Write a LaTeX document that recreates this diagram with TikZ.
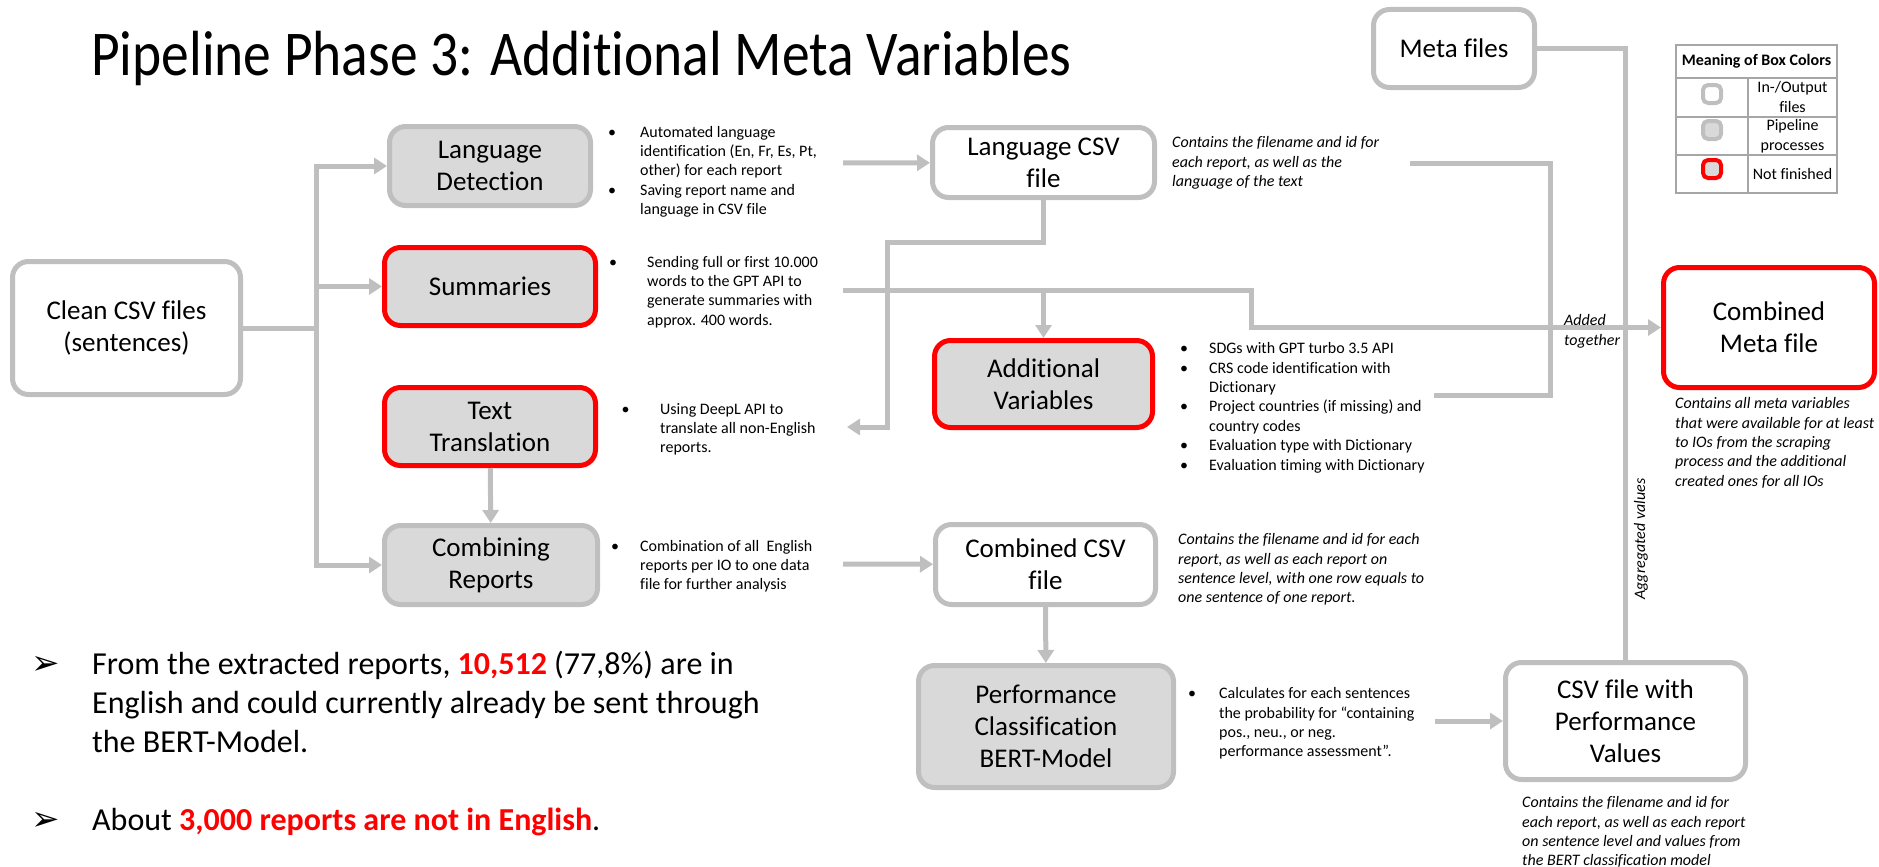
\documentclass[tikz,border=0pt]{standalone}
\usepackage{fontspec}
\setmainfont{Carlito}[Ligatures=NoCommon]
\newfontfamily\symfont{DejaVu Sans}
\usetikzlibrary{arrows.meta}

\definecolor{linegray}{HTML}{BFBFBF}
\definecolor{procfill}{HTML}{D9D9D9}
\definecolor{openred}{HTML}{FF0000}
\definecolor{tablegray}{HTML}{A6A6A6}

\tikzset{
  box/.style={rounded corners=16pt, line width=5pt, align=center, inner sep=0pt,
    font=\fontsize{27}{32}\selectfont},
  filebox/.style={box, draw=linegray, fill=white},
  procbox/.style={box, draw=linegray, fill=procfill},
  openbox/.style={box, draw=openred, fill=procfill},
  conn/.style={draw=linegray, line width=5pt},
  arr/.style={conn, -{Triangle[length=13pt,width=16pt]}},
  note/.style={anchor=north west, inner sep=0pt, font=\fontsize{16}{19.4}\selectfont},
  comment/.style={anchor=north west, inner sep=0pt, font=\fontsize{16}{19.4}\selectfont\itshape},
  legicon/.style={rounded corners=5pt, line width=4pt, minimum size=18pt, inner sep=0pt},
  legtext/.style={align=center, inner sep=0pt, font=\fontsize{16}{20}\selectfont},
  tabline/.style={draw=tablegray, line width=1.8pt}
}

\begin{document}
\begin{tikzpicture}[x=1pt,y=-1pt]
  \useasboundingbox (0,0) rectangle (1879,867);

  \node[anchor=base west, inner sep=0pt, font=\fontsize{55.5}{60}\selectfont] (title)
    at (91,75) {\scalebox{1}[1.15]{Pipeline Phase 3: Additional Meta Variables}};

  % boxes
  \node[filebox, minimum width=228pt, minimum height=133pt] (clean) at (126.5,328) {Clean CSV files\\(sentences)};
  \node[procbox, minimum width=201pt, minimum height=79pt] (langdet) at (490,166) {Language\\Detection};
  \node[openbox, minimum width=211pt, minimum height=78pt] (summ) at (490,286.5) {Summaries};
  \node[openbox, minimum width=211pt, minimum height=78pt] (trans) at (490,426.5) {Text\\Translation};
  \node[procbox, minimum width=213pt, minimum height=79pt] (combrep) at (491,565) {Combining\\Reports};
  \node[filebox, minimum width=222pt, minimum height=70pt] (langcsv) at (1043.5,162.5) {Language CSV\\file};
  \node[openbox, minimum width=218pt, minimum height=87pt] (addvar) at (1043.5,384) {Additional\\Variables};
  \node[filebox, minimum width=220pt, minimum height=80pt] (combcsv) at (1045.5,564.5) {Combined CSV\\file};
  \node[procbox, minimum width=255pt, minimum height=122pt] (perf) at (1046,726.5) {Performance\\Classification\\BERT-Model};
  \node[filebox, minimum width=161pt, minimum height=78pt] (meta) at (1454,48.5) {Meta files};
  \node[filebox, draw=openred, minimum width=211pt, minimum height=120pt] (combmeta) at (1769,327.5) {Combined\\Meta file};
  \node[filebox, minimum width=240pt, minimum height=117pt] (perfval) at (1625.5,721) {CSV file with\\Performance\\Values};

  % bullet notes
  \node[note] (ldnote) at (608,123.4) {\begin{tabular}{@{}p{32pt}@{}l@{}}
    • & Automated language\\
      & identification (En, Fr, Es, Pt,\\
      & other) for each report\\
    • & Saving report name and\\
      & language in CSV file
  \end{tabular}};
  \node[note] (summnote) at (609,253.4) {\begin{tabular}{@{}p{38pt}@{}l@{}}
    • & Sending full or first 10.000\\
      & words to the GPT API to\\
      & generate summaries with\\
      & approx. 400 words.
  \end{tabular}};
  \node[note] (transnote) at (621.5,400.4) {\begin{tabular}{@{}p{38.5pt}@{}l@{}}
    • & Using DeepL API to\\
      & translate all non-English\\
      & reports.
  \end{tabular}};
  \node[note] (crnote) at (611,537.4) {\begin{tabular}{@{}p{29pt}@{}l@{}}
    • & Combination of all\ \ English\\
      & reports per IO to one data\\
      & file for further analysis
  \end{tabular}};
  \node[note] (avnote) at (1180,340) {\begin{tabular}{@{}p{29pt}@{}l@{}}
    • & SDGs with GPT turbo 3.5 API\\
    • & CRS code identification with\\
      & Dictionary\\
    • & Project countries (if missing) and\\
      & country codes\\
    • & Evaluation type with Dictionary\\
    • & Evaluation timing with Dictionary
  \end{tabular}};
  \node[note] (pfnote) at (1188,685) {\begin{tabular}{@{}p{31pt}@{}l@{}}
    • & Calculates for each sentences\\
      & the probability for “containing\\
      & pos., neu., or neg.\\
      & performance assessment”.
  \end{tabular}};

  % comments
  \node[comment] (lccomment) at (1172,134) {\begin{tabular}{@{}l@{}}
    Contains the filename and id for\\
    each report, as well as the\\
    language of the text
  \end{tabular}};
  \node[comment] (cccomment) at (1178,531) {\begin{tabular}{@{}l@{}}
    Contains the filename and id for each\\
    report, as well as each report on\\
    sentence level, with one row equals to\\
    one sentence of one report.
  \end{tabular}};
  \node[comment] (cmcomment) at (1675,395) {\begin{tabular}{@{}l@{}}
    Contains all meta variables\\
    that were available for at least\\
    to IOs from the scraping\\
    process and the additional\\
    created ones for all IOs
  \end{tabular}};
  \node[comment] (pvcomment) at (1522,794) {\begin{tabular}{@{}l@{}}
    Contains the filename and id for\\
    each report, as well as each report\\
    on sentence level and values from\\
    the BERT classification model
  \end{tabular}};

  % free ends of the connectors
  \coordinate (split) at (316,328);
  \coordinate (ldout) at (843,163);
  \coordinate (smout) at (843,290);
  \coordinate (smbend) at (1251,290);
  \coordinate (lcbend) at (887,242);
  \coordinate (ttin) at (847,427);
  \coordinate (crout) at (843,564);
  \coordinate (pfout) at (1435,721);
  \coordinate (lcout) at (1410,163);
  \coordinate (merge) at (1550,395);
  \coordinate (avout) at (1434,395);

  % connectors
  \draw[conn] (clean) -- (split);
  \draw[arr] (split) |- (langdet);
  \draw[arr] (split) |- (summ);
  \draw[arr] (split) |- (combrep);
  \draw[arr] (ldout) -- (langcsv);
  \draw[arr] (langcsv) |- (lcbend) |- (ttin);
  \draw[arr] (smout) -- (smbend) |- (combmeta);
  \draw[arr] (addvar.north |- smout) -- (addvar);
  \draw[arr] (trans) -- (combrep);
  \draw[arr] (crout) -- (combcsv);
  \draw[arr] (combcsv) -- (perf);
  \draw[arr] (pfout) -- (perfval);
  \draw[conn] (lcout) -| (merge) -- (avout);
  \draw[conn] (meta) -| (perfval);

  \node[comment] (added) at (1564,312) {\begin{tabular}{@{}l@{}}Added\\together\end{tabular}};
  \node[rotate=90, inner sep=0pt, font=\fontsize{16}{19}\selectfont\itshape] (aggr) at (1641,539) {Aggregated values};

  % legend
  \draw[tabline] (1676,45) rectangle (1837,193);
  \foreach \y in {78,117,155} {
    \draw[tabline] (1676,\y) -- (1837,\y);
  }
  \draw[tabline] (1748,78) -- (1748,193);
  \node[inner sep=0pt, font=\fontsize{16}{19}\selectfont\bfseries] (legtitle) at (1756.5,61.5) {Meaning of Box Colors};
  \node[legicon, draw=linegray, fill=white] (legfile) at (1712,94) {};
  \node[legicon, draw=linegray, fill=procfill] (legproc) at (1712,130) {};
  \node[legicon, draw=openred, fill=procfill] (legopen) at (1712,169) {};
  \node[legtext] (legfiletxt) at (1792.5,97.5) {In-/Output\\files};
  \node[legtext] (legproctxt) at (1792.5,136) {Pipeline\\processes};
  \node[legtext] (legopentxt) at (1792.5,174) {Not finished};

  % findings
  \node[anchor=north west, inner sep=0pt, font=\fontsize{32}{39}\selectfont] (findings) at (31,646.7) {\begin{tabular}{@{}p{61pt}@{}l@{}}
    {\symfont\fontsize{34}{34}\selectfont ➢} & From the extracted reports, {\color{openred}\bfseries 10,512} (77,8\%) are in\\
      & English and could currently already be sent through\\
      & the BERT-Model.\\[39pt]
    {\symfont\fontsize{34}{34}\selectfont ➢} & About {\color{openred}\bfseries 3,000 reports are not in English}.
  \end{tabular}};
\end{tikzpicture}
\end{document}
